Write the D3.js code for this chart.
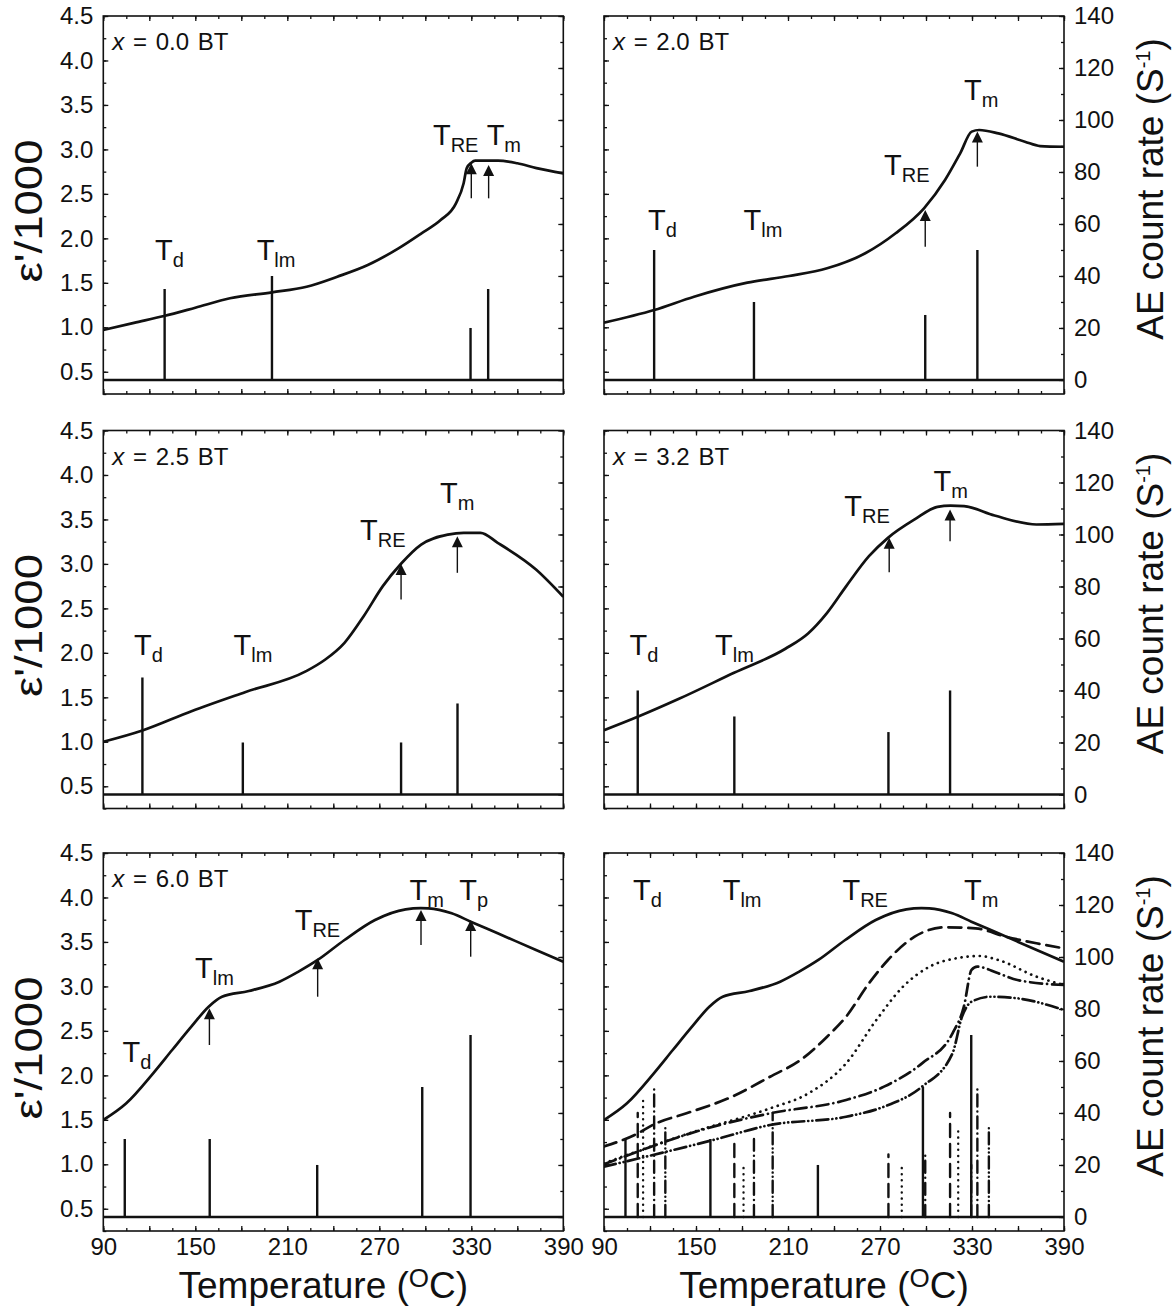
<!DOCTYPE html>
<html><head><meta charset="utf-8">
<script src="https://cdn.jsdelivr.net/npm/d3@7"></script>
<style>
body{margin:0;background:#fff}
svg{display:block}
text{font-family:"Liberation Sans",Arial,Helvetica,sans-serif;fill:#111}
</style>
</head><body>
<svg id="chart" width="1175" height="1308"></svg>
<script>
// ---------- axis domains and ticks ----------
const tempDomain = [90, 390];
const epsDomain = [0.25, 4.5];
const aeDomain = [-5.4, 140];
const tempTicks = [90, 150, 210, 270, 330, 390];
const tempMinorTicks = d3.range(90, 391, 15);
const epsTicks = [0.5, 1.0, 1.5, 2.0, 2.5, 3.0, 3.5, 4.0, 4.5];
const epsMinorTicks = d3.range(0.25, 4.51, 0.25);
const aeTicks = [0, 20, 40, 60, 80, 100, 120, 140];
const aeMinorTicks = d3.range(0, 141, 10);

// ---------- dielectric curves  [T (°C), eps'/1000] ----------
const eps00 = [[90,0.97],[110,1.05],[129.6,1.127],[150,1.22],[172.6,1.326],[200,1.393],[222.6,1.456],[242.6,1.569],[262.5,1.70],[282.5,1.888],[297.5,2.057],[310,2.206],[320,2.394],[325,2.619],[327,2.788],[330,2.85],[332.5,2.873],[347.5,2.873],[360,2.844],[372.5,2.79],[390,2.73]];
const eps20 = [[90,1.052],[122.7,1.194],[148.7,1.344],[183.5,1.502],[210.7,1.577],[235.5,1.663],[260.4,1.832],[280.2,2.057],[298.7,2.338],[312.4,2.656],[322.3,2.956],[329.8,3.2],[334.7,3.218],[347.2,3.18],[364.5,3.087],[374.4,3.038],[390,3.03]];
const eps25 = [[90,1.0],[115.5,1.127],[147.5,1.344],[182.4,1.558],[222.3,1.794],[234.8,1.925],[247.3,2.113],[259.8,2.412],[272.3,2.75],[284.3,3.005],[297.3,3.218],[314.7,3.33],[325,3.35],[336,3.35],[347.2,3.237],[372.2,2.937],[390,2.63]];
const eps32 = [[90,1.13],[112,1.281],[138.9,1.483],[174.8,1.776],[208.3,2.046],[223.1,2.218],[235.5,2.45],[248,2.75],[262.8,3.087],[275.2,3.293],[292.6,3.5],[307.5,3.642],[316,3.655],[324.8,3.649],[344.7,3.544],[372,3.443],[390,3.45]];
const eps60 = [[90,1.498],[105,1.686],[122.5,2.023],[134.9,2.285],[147.4,2.547],[158.7,2.772],[167.4,2.884],[184.9,2.948],[204.9,3.053],[217.3,3.166],[229.8,3.297],[247.3,3.522],[267.2,3.747],[287.2,3.867],[297,3.88],[302.2,3.878],[317.2,3.822],[329.6,3.728],[347.2,3.597],[372.2,3.41],[390,3.278]];

// overlay panel curves as drawn in the comparison panel
const ov32 = [[90,1.2],[110,1.33],[123.9,1.46],[143.8,1.573],[173.5,1.76],[198.3,1.985],[218.2,2.173],[235.5,2.435],[247.9,2.66],[262.8,3.035],[275.2,3.297],[292.6,3.559],[312.4,3.665],[332.3,3.653],[352.1,3.559],[372,3.485],[390,3.428]];
const ov25 = [[90,1.011],[148.7,1.366],[198.3,1.629],[223.4,1.798],[247.9,2.135],[267.6,2.622],[285,2.997],[302.3,3.222],[322.2,3.323],[334.7,3.342],[347.2,3.297],[372,3.11],[390,3.016]];
const ov20 = [[90,1.0],[161.2,1.423],[198.3,1.573],[247.9,1.723],[272.6,1.873],[297.4,2.135],[317.3,2.473],[324.7,2.772],[329.7,3.185],[333.4,3.222],[347.2,3.147],[359.6,3.072],[390,3.016]];
const ov00 = [[90,0.973],[161.2,1.273],[198.3,1.442],[247.9,1.535],[272.6,1.648],[297.4,1.873],[317.3,2.248],[323.5,2.66],[329.7,2.828],[342.1,2.884],[359.6,2.866],[390,2.735]];

// ---------- AE count-rate bars  [T (°C), counts/s] ----------
const ae00 = [[130,35],[200,40],[329.5,20],[341,35]];
const ae20 = [[122.7,50],[187.8,30],[299.5,25],[333.5,50]];
const ae25 = [[115.5,45],[181,20],[284.2,20],[321,35]];
const ae32 = [[112,40],[175,30],[275.5,24],[315.7,40]];
const ae60 = [[104,30],[159.4,30],[229.5,20],[298,50],[329.5,70]];

// ---------- transition labels  [main, subscript, T, eps'/1000 at baseline] ----------
const lab00 = [["T","d",123.7,1.757],["T","lm",190,1.757],["T","RE",305,3.05],["T","m",340,3.05]];
const lab20 = [["T","d",118.7,2.094],["T","lm",181,2.094],["T","RE",272.6,2.712],["T","m",324.8,3.556]];
const lab25 = [["T","d",110,1.981],["T","lm",174.9,1.981],["T","RE",257.4,3.274],["T","m",309.6,3.687]];
const lab32 = [["T","d",106.6,1.981],["T","lm",162.4,1.981],["T","RE",246.7,3.536],["T","m",304.9,3.818]];
const lab60 = [["T","d",102.5,2.153],["T","lm",149.8,3.095],["T","RE",214.8,3.634],["T","m",289.7,3.972],["T","p",322.1,3.972]];
const labAll = [["T","d",108.9,3.972],["T","lm",167.4,3.972],["T","RE",245.5,3.972],["T","m",324.8,3.972]];

// ---------- arrows  [T, tip eps, tail eps] ----------
const arr00 = [[330,2.844,2.45],[341.3,2.825,2.45]];
const arr20 = [[299.5,2.319,1.906],[333.5,3.2,2.806]];
const arr25 = [[284.2,3.0,2.6],[320.9,3.312,2.9]];
const arr32 = [[276,3.294,2.907],[315.7,3.612,3.256]];
const arr60 = [[159.2,2.754,2.341],[229.8,3.316,2.884],[297.2,3.859,3.466],[329.6,3.747,3.334]];

// ---------- panels ----------
const panels = [
  {row:0,col:0,tag:"0.0",series:[{c:eps00,b:ae00,dash:null}],labels:lab00,arrows:arr00},
  {row:0,col:1,tag:"2.0",series:[{c:eps20,b:ae20,dash:null}],labels:lab20,arrows:arr20},
  {row:1,col:0,tag:"2.5",series:[{c:eps25,b:ae25,dash:null}],labels:lab25,arrows:arr25},
  {row:1,col:1,tag:"3.2",series:[{c:eps32,b:ae32,dash:null}],labels:lab32,arrows:arr32},
  {row:2,col:0,tag:"6.0",series:[{c:eps60,b:ae60,dash:null}],labels:lab60,arrows:arr60},
  {row:2,col:1,tag:null,series:[
      {c:eps60,b:ae60,dash:null},
      {c:ov32,b:ae32,dash:"13,7"},
      {c:ov25,b:ae25,dash:"0.1,6"},
      {c:ov20,b:ae20,dash:"12,5,0.1,5"},
      {c:ov00,b:ae00,dash:"12,4,0.1,4,0.1,4"}],labels:labAll,arrows:[]}
];

// ---------- drawing ----------
const svg = d3.select("#chart");
const W = 460, H = 378;
const colX = [103.3, 604];
const rowY = [16, 430.5, 853];
const FS = 24;

panels.forEach((p, i) => {
  const left = colX[p.col], top = rowY[p.row];
  const x = d3.scaleLinear().domain(tempDomain).range([left, left + W]);
  const y = d3.scaleLinear().domain(epsDomain).range([top + H, top]);
  const ya = d3.scaleLinear().domain(aeDomain).range([top + H, top]);
  const g = svg.append("g");

  const clipId = "clip" + i;
  svg.append("clipPath").attr("id", clipId).append("rect")
    .attr("x", left).attr("y", top).attr("width", W).attr("height", H);

  function ax(gen, scale, vals, size, labels, pad, tx, ty) {
    const a = gen(scale).tickValues(vals).tickSize(size).tickPadding(pad);
    if (!labels) a.tickFormat("");
    else a.tickFormat(labels);
    const ga = g.append("g").attr("transform", `translate(${tx},${ty})`).call(a);
    ga.select(".domain").remove();
    ga.selectAll("line").attr("stroke", "#111").attr("stroke-width", 1.3);
    ga.selectAll("text").attr("font-size", FS).attr("fill", "#111")
      .attr("font-family", '"Liberation Sans",Arial,sans-serif');
    return ga;
  }
  ax(d3.axisBottom, x, tempMinorTicks, -3, null, 0, 0, top + H);
  ax(d3.axisBottom, x, tempMinorTicks.filter(t => (t - 90) % 30 === 0), -5,
     p.row === 2 ? (t => tempTicks.includes(t) ? String(t) : "") : null, 7, 0, top + H);
  ax(d3.axisTop, x, tempMinorTicks, -3, null, 0, 0, top);
  ax(d3.axisTop, x, tempMinorTicks.filter(t => (t - 90) % 30 === 0), -5, null, 0, 0, top);
  ax(d3.axisLeft, y, epsMinorTicks, -3, null, 0, left, 0);
  ax(d3.axisLeft, y, epsTicks, -5, p.col === 0 ? d3.format(".1f") : null, 10, left, 0);
  ax(d3.axisRight, ya, aeMinorTicks, -3, null, 0, left + W, 0);
  ax(d3.axisRight, ya, aeTicks, -5, p.col === 1 ? d3.format("d") : null, 10, left + W, 0);

  g.append("rect").attr("x", left).attr("y", top).attr("width", W).attr("height", H)
    .attr("fill", "none").attr("stroke", "#111").attr("stroke-width", 1.6);

  const pg = g.append("g").attr("clip-path", `url(#${clipId})`);

  pg.append("line").attr("x1", left).attr("x2", left + W)
    .attr("y1", ya(0)).attr("y2", ya(0)).attr("stroke", "#111").attr("stroke-width", 2.4);

  const line = d3.line().x(d => x(d[0])).y(d => y(d[1])).curve(d3.curveMonotoneX);
  p.series.forEach(s => {
    pg.selectAll(null).data(s.b).enter().append("line")
      .attr("x1", d => x(d[0])).attr("x2", d => x(d[0]))
      .attr("y1", ya(0)).attr("y2", d => ya(d[1]))
      .attr("stroke", "#111").attr("stroke-width", 2.4)
      .attr("stroke-dasharray", s.dash ? s.dash : null)
      .attr("stroke-linecap", s.dash ? "round" : "butt");
    pg.append("path").datum(s.c).attr("d", line)
      .attr("fill", "none").attr("stroke", "#111").attr("stroke-width", 2.7)
      .attr("stroke-dasharray", s.dash ? s.dash : null)
      .attr("stroke-linecap", s.dash ? "round" : "butt");
  });

  p.arrows.forEach(a => {
    const ax0 = x(a[0]), yt = y(a[1]), yb = y(a[2]);
    g.append("line").attr("x1", ax0).attr("x2", ax0).attr("y1", yt + 8).attr("y2", yb)
      .attr("stroke", "#111").attr("stroke-width", 1.4);
    g.append("path").attr("d", `M${ax0},${yt} L${ax0 - 5.5},${yt + 11} L${ax0 + 5.5},${yt + 11} Z`)
      .attr("fill", "#111");
  });

  p.labels.forEach(l => {
    const t = g.append("text").attr("x", x(l[2])).attr("y", y(l[3])).attr("font-size", 29);
    t.append("tspan").text(l[0]);
    t.append("tspan").attr("dy", 7).attr("font-size", 20).text(l[1]);
  });

  if (p.tag) {
    const t = g.append("text").attr("x", left + 9).attr("y", top + 34).attr("font-size", 24)
      .attr("word-spacing", 2);
    t.append("tspan").attr("font-style", "italic").text("x");
    t.append("tspan").text(" = " + p.tag + " BT");
  }

  if (p.col === 0) {
    g.append("text").attr("transform", `translate(42,${top + H / 2 + 6}) rotate(-90) scale(1.2,1)`)
      .attr("text-anchor", "middle").attr("font-size", 38).text("\u03b5'/1000");
  } else {
    const t = g.append("text").attr("transform", `translate(1163,${top + H / 2 - 16}) rotate(-90)`)
      .attr("text-anchor", "middle").attr("font-size", 37);
    t.append("tspan").text("AE count rate (S");
    t.append("tspan").attr("dy", -13).attr("font-size", 20).text("-1");
    t.append("tspan").attr("dy", 13).text(")");
  }
  if (p.row === 2) {
    const t = g.append("text").attr("x", left + W / 2 - 10).attr("y", top + H + 67)
      .attr("text-anchor", "middle").attr("font-size", 37);
    t.append("tspan").text("Temperature (");
    t.append("tspan").attr("dy", -11).attr("font-size", 26).text("O");
    t.append("tspan").attr("dy", 11).text("C)");
  }
});
</script>
</body></html>
